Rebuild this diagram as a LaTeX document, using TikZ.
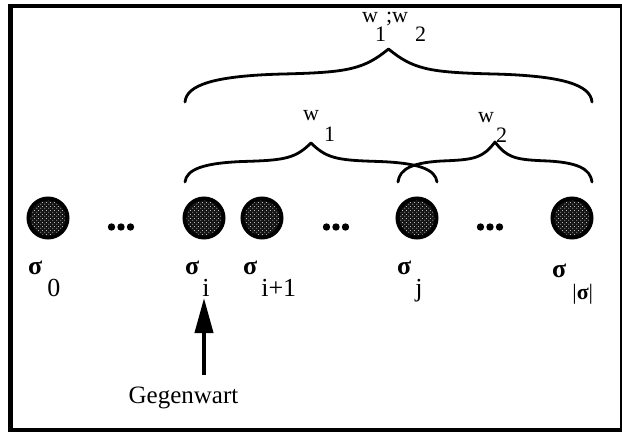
\documentclass[tikz,border=0pt]{standalone}
\usepackage{fontspec}
\setmainfont{Liberation Serif}
\usetikzlibrary{arrows.meta,patterns.meta}

% fine grid of light dots used inside the state disks
\pgfdeclarepattern{
  name=meshdots,
  type=uncolored,
  bottom left={\pgfpoint{0pt}{0pt}},
  top right={\pgfpoint{4pt}{4pt}},
  tile size={\pgfpoint{4pt}{4pt}},
  code={
    \pgfpathcircle{\pgfpoint{1pt}{1pt}}{0.6pt}
    \pgfpathcircle{\pgfpoint{3pt}{3pt}}{0.6pt}
    \pgfusepath{fill}
  }
}

\newcommand{\lowsub}[2][-21pt]{\raisebox{#1}{#2}}
\newcommand{\sig}{\textbf{σ}}

% curly brace from x=#1 to x=#2, ends at height #3, tip at height #4
\newcommand{\curlybrace}[4]{%
  \pgfmathsetmacro\bm{(#1+#2)/2}%
  \pgfmathsetmacro\bL{(#2-#1)/2}%
  \pgfmathsetmacro\bH{#3-#4}%
  \draw[bracestroke]
    (#1,#3) .. controls ({#1+1.5},{#3-0.32*\bH}) and ({#1+0.14*\bL},{#3-0.5*\bH}) .. ({#1+0.5*\bL},{#3-0.53*\bH})
    .. controls ({#1+0.8*\bL},{#3-0.56*\bH}) and ({\bm-0.12*\bL},{#3-0.62*\bH}) .. (\bm,#4)
    .. controls ({\bm+0.12*\bL},{#3-0.62*\bH}) and ({#2-0.8*\bL},{#3-0.56*\bH}) .. ({#2-0.5*\bL},{#3-0.53*\bH})
    .. controls ({#2-0.14*\bL},{#3-0.5*\bH}) and ({#2-1.5},{#3-0.32*\bH}) .. (#2,#3);%
}

\tikzset{
  state/.style={circle, minimum size=39pt, inner sep=0pt, draw=black, line width=4pt,
    preaction={fill=black!92}, pattern=meshdots, pattern color=white},
  stlabel/.style={anchor=base west, inner sep=0pt, font=\fontsize{26}{30}\selectfont},
  wlabel/.style={anchor=base west, inner sep=0pt, font=\fontsize{22}{26}\selectfont},
  bracestroke/.style={line width=2.8pt, line cap=round, line join=round},
  frame/.style={line width=4.5pt},
  nowarrow/.style={line width=4pt, -{Triangle[length=35pt,width=18pt]}},
  ellipsisdot/.style={fill=black},
}

\begin{document}
\begin{tikzpicture}[x=1pt, y=-1pt]
  \useasboundingbox (0,0) rectangle (622,433);

  % outer frame
  \draw[frame] (10.5,6) rectangle (622,430);

  % states of the run
  \node[state] (c0)  at (48,218)  {};
  \node[state] (ci)  at (204,218) {};
  \node[state] (ci1) at (262,218) {};
  \node[state] (cj)  at (417,218) {};
  \node[state] (cn)  at (572,218) {};

  % elided states
  \foreach \cx in {121,336,490} {
    \foreach \dx in {-9.5,0,9.5}
      \fill[ellipsisdot] ({\cx+\dx},227) circle (3.7);
  }

  % state labels
  \node[stlabel] (s0)  at (28,275)  {\sig\hspace{5pt}\lowsub[-22pt]{0}};
  \node[stlabel] (si)  at (185,275) {\sig\hspace{3pt}\lowsub[-22pt]{i}};
  \node[stlabel] (si1) at (243,275) {\sig\hspace{4pt}\lowsub[-22pt]{i+1}};
  \node[stlabel] (sj)  at (397,275) {\sig\hspace{4pt}\lowsub[-22pt]{j}};
  \node[stlabel] (sn)  at (552,277) {\sig\hspace{6pt}\lowsub[-22pt]{\fontsize{22}{24}\selectfont|\sig|}};

  % braces for the two subwords and their composition
  \curlybrace{185}{437}{182}{143}
  \curlybrace{398}{592}{182}{142}
  \curlybrace{185}{592}{102}{49}

  \node[wlabel] (w1)  at (303,121) {w\hspace{5pt}\lowsub[-21pt]{1}};
  \node[wlabel] (w2)  at (478,123) {w\hspace{2pt}\lowsub[-20pt]{2}};
  \node[wlabel] (w12) at (362,23)  {w\hspace{-3pt}\lowsub[-19pt]{1};w\hspace{7pt}\lowsub[-19pt]{2}};

  % present position marker
  \node[anchor=base, inner sep=0pt, font=\fontsize{25}{30}\selectfont] (geg) at (183.5,403) {Gegenwart};
  \coordinate (foot) at (204,375);
  \coordinate (tip)  at (204,298);
  \draw[nowarrow] (foot) -- (tip);
\end{tikzpicture}
\end{document}
